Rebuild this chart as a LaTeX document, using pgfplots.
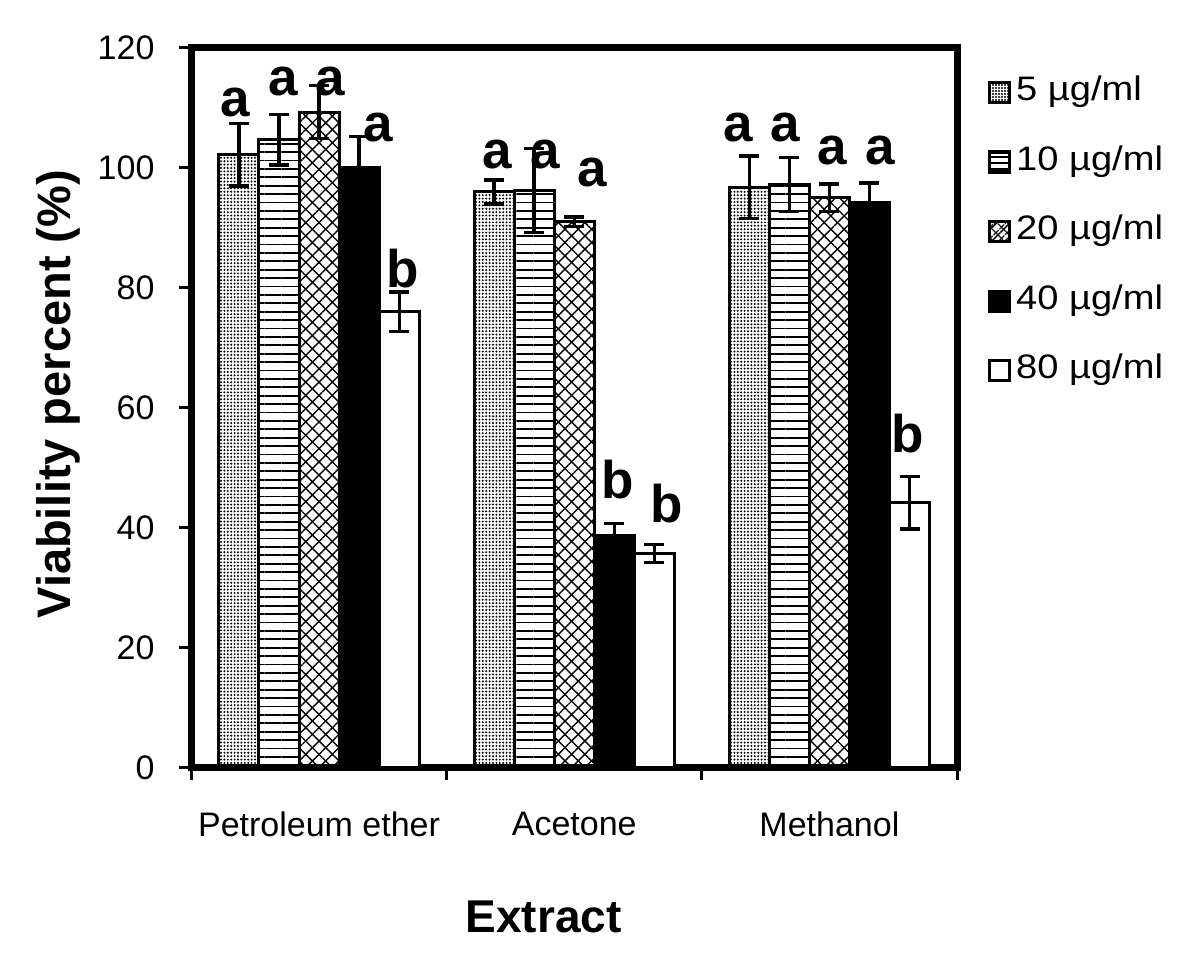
\documentclass[border=0pt]{standalone}
\usepackage{fontspec}
\setmainfont{Liberation Sans}
\newfontfamily\legfont[FakeStretch=1.12]{Liberation Sans}
\usepackage{pgfplots}
\usepackage{pgfplotstable}
\pgfplotsset{compat=1.18}
\usetikzlibrary{patterns.meta}

\pgfplotstableread{
x y e
0 102.2 5.2
1 96.0 2.0
2 96.8 5.2
}\tfive
\pgfplotstableread{
x y e
0 104.7 4.2
1 96.2 7.0
2 97.2 4.5
}\tten
\pgfplotstableread{
x y e
0 109.3 4.4
1 91.0 0.8
2 95.0 2.3
}\ttwenty
\pgfplotstableread{
x y e
0 100.0 5.2
1 38.7 2.0
2 94.2 3.3
}\tforty
\pgfplotstableread{
x y e
0 76.0 3.3
1 35.7 1.5
2 44.2 4.4
}\teighty

\pgfplotsset{
  myerr/.style={
    /pgfplots/error bars/y dir=both, /pgfplots/error bars/y explicit,
    /pgfplots/error bars/error bar style={line width=1.7pt, black, solid},
    /pgfplots/error bars/error mark options={rotate=90, mark size=5pt, line width=1.7pt, black, solid},
  },
}

\begin{document}
\begin{tikzpicture}
\begin{axis}[
  name=ax,
  width=382.75pt, height=360pt, scale only axis,
  xmin=-0.5, xmax=2.5, ymin=0, ymax=120,
  ytick={0,20,...,120},
  xtick={-0.5,0.5,1.5,2.5}, xticklabels={},
  extra x ticks={0,1,2},
  extra x tick labels={Petroleum ether,Acetone,Methanol},
  extra x tick style={major tick length=0pt, xticklabel style={yshift=-18.5pt}},
  tick pos=left, tick align=outside, major tick length=6pt,
  tick style={line width=1.5pt, black},
  axis line style={line width=3.5pt},
  ticklabel style={font=\fontsize{17}{20}\selectfont},
  /pgf/number format/assume math mode=true,
  yticklabel style={xshift=-9pt},
  ylabel={\bfseries Viability percent (\%)},
  ylabel style={font=\fontsize{23.5}{26}\selectfont, at={(axis description cs:-0.1744,0.519)}, anchor=center},
  xlabel={\bfseries Extract},
  xlabel style={font=\fontsize{23}{26}\selectfont, at={(axis description cs:0.46,-0.207)}, anchor=center},
  ybar, bar width=0.157,
  legend style={at={(axis description cs:1.04,0.968)}, anchor=north west, draw=none, fill=none,
    font=\legfont\fontsize{17}{20}\selectfont, row sep=13.8pt, inner sep=0pt,
    nodes={inner sep=2.5pt, text height=12pt, text depth=4pt}},
  legend cell align=left,
  every axis plot/.append style={draw=black, line width=1.5pt},
]
\addplot[myerr, bar shift=-0.314, pattern={Dots[distance=1.7pt, radius=0.55pt]},
  legend image code/.code={\draw[pattern={Dots[distance=1.5pt, radius=0.55pt]}, line width=1.6pt] (0pt,-5pt) rectangle (10pt,5pt);}]
  table[x=x, y=y, y error=e]{\tfive};
\addlegendentry{5 µg/ml}
\addplot[myerr, bar shift=-0.157, pattern={Lines[angle=0, distance=4.2pt, line width=0.9pt]},
  legend image code/.code={\draw[pattern={Lines[angle=0, distance=3pt, line width=0.8pt]}, line width=1.6pt] (0pt,-5pt) rectangle (10pt,5pt);}]
  table[x=x, y=y, y error=e]{\tten};
\addlegendentry{10 µg/ml}
\addplot[myerr, bar shift=0, postaction={pattern={Lines[angle=45, distance=4.7pt, line width=0.7pt]}}, pattern={Lines[angle=-45, distance=4.7pt, line width=0.7pt]},
  legend image code/.code={\draw[pattern={Lines[angle=45, distance=4pt, line width=0.7pt]}, postaction={pattern={Lines[angle=-45, distance=4pt, line width=0.7pt]}}, line width=1.6pt] (0pt,-5pt) rectangle (10pt,5pt);}]
  table[x=x, y=y, y error=e]{\ttwenty};
\addlegendentry{20 µg/ml}
\addplot[myerr, bar shift=0.157, fill=black,
  legend image code/.code={\draw[fill=black, line width=1.6pt] (0pt,-5pt) rectangle (10pt,5pt);}]
  table[x=x, y=y, y error=e]{\tforty};
\addlegendentry{40 µg/ml}
\addplot[myerr, bar shift=0.314, fill=white,
  legend image code/.code={\draw[fill=white, line width=1.6pt] (0pt,-5pt) rectangle (10pt,5pt);}]
  table[x=x, y=y, y error=e]{\teighty};
\addlegendentry{80 µg/ml}

\begin{scope}[every node/.style={font=\fontsize{26.5}{27}\selectfont\bfseries}]
\node at (axis cs:-0.330,110.9) {a};
\node at (axis cs:-0.141,114.4) {a};
\node at (axis cs:0.043,114.4) {a};
\node at (axis cs:0.231,106.75) {a};
\node at (axis cs:0.329,83.2) {b};
\node at (axis cs:0.697,102.2) {a};
\node at (axis cs:0.885,102.2) {a};
\node at (axis cs:1.069,99.3) {a};
\node at (axis cs:1.171,48.0) {b};
\node at (axis cs:1.363,44.0) {b};
\node at (axis cs:1.642,106.75) {a};
\node at (axis cs:1.825,106.75) {a};
\node at (axis cs:2.013,102.9) {a};
\node at (axis cs:2.198,102.9) {a};
\node at (axis cs:2.305,55.75) {b};
\end{scope}
\end{axis}
\pgfresetboundingbox
\path ([shift={(-95.75pt,-99.5pt)}]ax.south west) rectangle ([shift={(121.5pt,24pt)}]ax.north east);
\end{tikzpicture}
\end{document}
